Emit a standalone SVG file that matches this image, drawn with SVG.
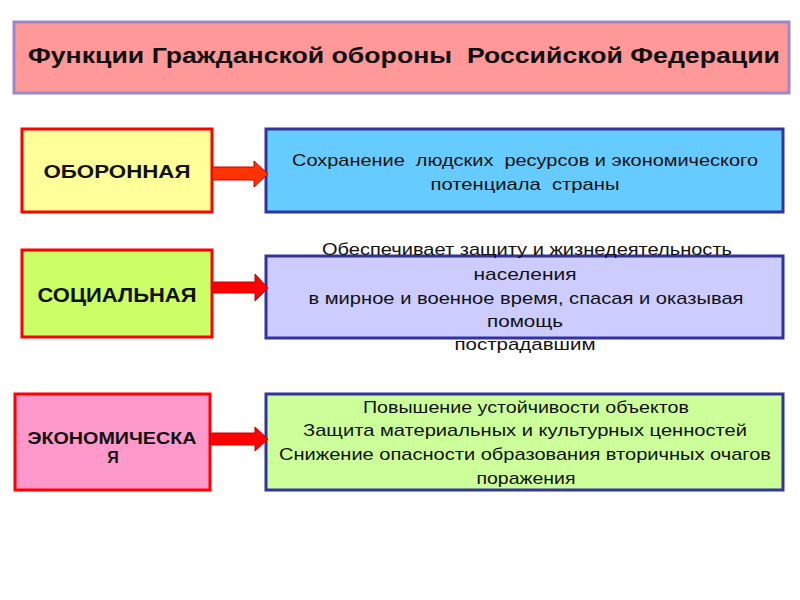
<svg xmlns="http://www.w3.org/2000/svg" width="800" height="600" viewBox="0 0 800 600">
<style>
text{font-family:"Liberation Sans",Arial,sans-serif;white-space:pre;fill:#111}
.t{font-size:22px;font-weight:bold}
.l{font-weight:bold;text-anchor:middle}
.r{font-size:17px;text-anchor:middle}
.lb{stroke:#ff0000;stroke-width:3}
.rb{stroke:#333399;stroke-width:3}
.ar{stroke:#cc0000;stroke-width:1}
</style>
<rect width="800" height="600" fill="#ffffff"/>
<g id="title">
<rect x="14" y="22" width="775" height="71" fill="#ff9999" stroke="#9988cc" stroke-width="3"/>
<text class="t" x="28" y="63" textLength="752" lengthAdjust="spacingAndGlyphs">Функции Гражданской обороны  Российской Федерации</text>
</g>
<g id="n1">
<rect class="lb" x="22" y="129" width="190" height="83" fill="#ffff99"/>
<text class="l" x="117" y="178" style="font-size:19px" textLength="147" lengthAdjust="spacingAndGlyphs">ОБОРОННАЯ</text>
</g>
<g id="d1">
<rect class="rb" x="266" y="129" width="517" height="83" fill="#66ccff"/>
<text class="r" x="525" y="166" textLength="466" lengthAdjust="spacingAndGlyphs">Сохранение  людских  ресурсов и экономического</text>
<text class="r" x="525" y="190" textLength="189" lengthAdjust="spacingAndGlyphs">потенциала  страны</text>
</g>
<g id="n2">
<rect class="lb" x="22" y="250" width="190" height="87" fill="#ccff66"/>
<text class="l" x="117" y="302" style="font-size:21px" textLength="159" lengthAdjust="spacingAndGlyphs">СОЦИАЛЬНАЯ</text>
</g>
<g id="d2">
<rect class="rb" x="266" y="256" width="517" height="82" fill="#ccccff"/>
<text class="r" x="527" y="255" textLength="410" lengthAdjust="spacingAndGlyphs">Обеспечивает защиту и жизнедеятельность</text>
<text class="r" x="525" y="280" textLength="103" lengthAdjust="spacingAndGlyphs">населения</text>
<text class="r" x="526" y="304" textLength="435" lengthAdjust="spacingAndGlyphs">в мирное и военное время, спасая и оказывая</text>
<text class="r" x="525" y="327" textLength="76" lengthAdjust="spacingAndGlyphs">помощь</text>
<text class="r" x="525" y="350" textLength="141" lengthAdjust="spacingAndGlyphs">пострадавшим</text>
</g>
<g id="n3">
<rect class="lb" x="15" y="394" width="195" height="96" fill="#ff99cc"/>
<text class="l" x="112" y="444" style="font-size:16px" textLength="169" lengthAdjust="spacingAndGlyphs">ЭКОНОМИЧЕСКА</text>
<text class="l" x="113" y="463" style="font-size:16px">Я</text>
</g>
<g id="d3">
<rect class="rb" x="266" y="394" width="517" height="96" fill="#ccff99"/>
<text class="r" x="526" y="413" textLength="326" lengthAdjust="spacingAndGlyphs">Повышение устойчивости объектов</text>
<text class="r" x="525" y="436" textLength="444" lengthAdjust="spacingAndGlyphs">Защита материальных и культурных ценностей</text>
<text class="r" x="525" y="460" textLength="492" lengthAdjust="spacingAndGlyphs">Снижение опасности образования вторичных очагов</text>
<text class="r" x="526" y="484" textLength="99" lengthAdjust="spacingAndGlyphs">поражения</text>
</g>
<g id="connectors">
<polygon class="ar" fill="#ff3300" points="212,167 254,167 254,161 268,174 254,187 254,180 212,180"/>
<polygon class="ar" fill="#ff0000" points="212,282 255,282 255,274 268,288 255,301 255,293 212,293"/>
<polygon class="ar" fill="#ff0000" points="210,433 255,433 255,427 268,439 255,451 255,445 210,445"/>
</g>
</svg>
